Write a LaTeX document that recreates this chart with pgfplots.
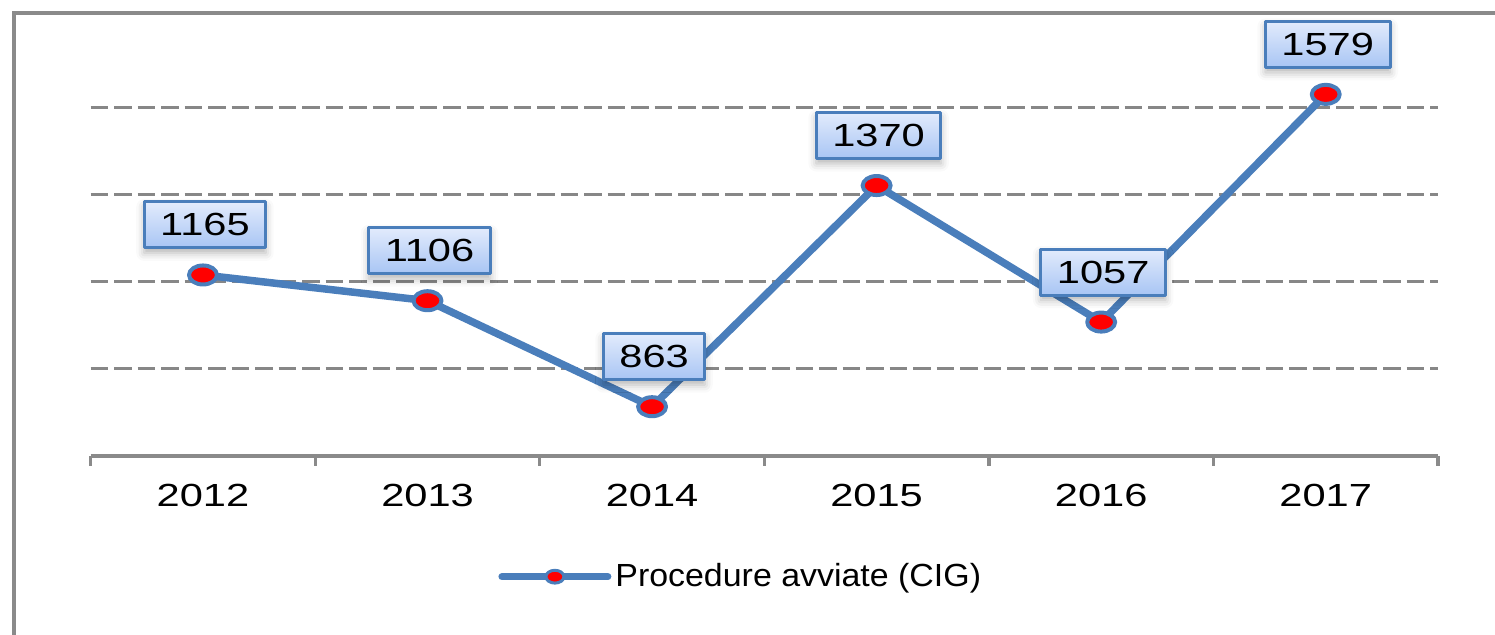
\documentclass[border=0pt]{standalone}
\usepackage{pgfplots}
\pgfplotsset{compat=1.18}
\usepackage{fontspec}
\setmainfont{Liberation Sans}
\newfontfamily\numfont{Liberation Sans}[FakeStretch=1.3]
\newfontfamily\legfont{Liberation Sans}[FakeStretch=1.06]
\usetikzlibrary{shadows.blur}
\definecolor{steel}{HTML}{4A7EBB}
\definecolor{framegray}{HTML}{8A8A8A}
\definecolor{gridgray}{HTML}{878787}
\definecolor{boxtop}{HTML}{E2EBFC}
\definecolor{boxbot}{HTML}{A8C5F4}
\begin{document}
\begin{tikzpicture}
\path[use as bounding box] (0pt,0pt) rectangle (747.5pt,317.5pt);
\draw[framegray, line width=2pt] (7pt,-2pt) -- (7pt,311pt) -- (750pt,311pt);
\begin{axis}[
  at={(45.35pt,89.5pt)}, anchor=south west,
  scale only axis, width=673.65pt, height=218.1pt,
  xmin=-0.5, xmax=5.5, ymin=750, ymax=1750,
  clip=false,
  axis x line*=bottom, axis y line*=left,
  y axis line style={draw=none},
  x axis line style={framegray, line width=1.6pt, -},
  ytick={950,1150,1350,1550}, yticklabels={},
  ytick style={draw=none},
  ymajorgrids,
  major grid style={gridgray, line width=1.5pt, dash pattern=on 8.75pt off 3pt},
  xtick={-0.5,0.5,...,5.5},
  xticklabels={2012,2013,2014,2015,2016,2017},
  x tick label as interval,
  tick align=outside, major tick length=5pt,
  xtick style={framegray, line width=1.6pt},
  xticklabel style={font=\numfont\fontsize{16}{19}\selectfont, inner sep=0pt, yshift=-8.75pt},
  legend style={draw=none, fill=none, inner sep=0pt, at={(axis description cs:0.3023,-0.2767)}, anchor=west,
    font=\legfont\fontsize{16}{19}\selectfont},
  legend image code/.code={
    \draw[steel, line width=3.5pt, line cap=round] (0pt,0pt) -- (53pt,0pt);
    \draw[fill=red, draw=steel, line width=1.5pt] (26.5pt,0pt) ellipse [x radius=4.5pt, y radius=3.2pt];
  },
]
\addplot[steel, line width=3.75pt, line join=round,
  mark=*, mark size=4.75pt,
  mark options={fill=red, draw=steel, line width=2pt, xscale=1.47},
  point meta=explicit symbolic,
  nodes near coords,
  every node near coord/.append style={anchor=center, yshift=25pt, xshift=1pt,
    font=\numfont\fontsize{16}{19}\selectfont, text=black,
    draw=steel, line width=1.5pt, top color=boxtop, bottom color=boxbot,
    inner xsep=8pt, minimum height=23pt,
    blur shadow={shadow xshift=0pt, shadow yshift=-2.5pt, shadow blur radius=4pt, shadow opacity=30}},
] coordinates {
  (0,1165) [1165]
  (1,1106) [1106]
  (2,863) [863]
  (3,1370) [1370]
  (4,1057) [1057]
  (5,1579) [1579]
};
\addlegendentry{Procedure avviate (CIG)}
\end{axis}
\end{tikzpicture}
\end{document}
